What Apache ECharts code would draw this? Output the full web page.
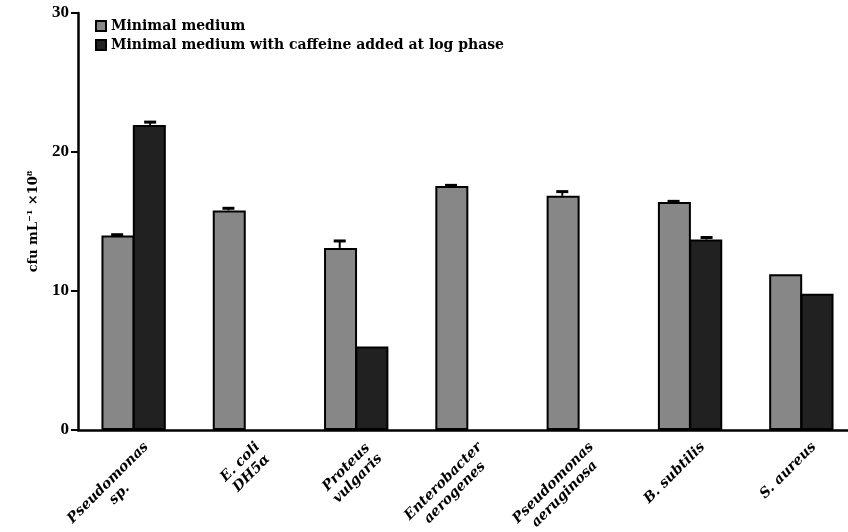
<!DOCTYPE html>
<html>
<head>
<meta charset="utf-8">
<script src="https://cdn.jsdelivr.net/npm/echarts@6/dist/echarts.min.js"></script>
<style>
    html, body { margin: 0; padding: 0; background: #fff; }
    #main { width: 848px; height: 532px; }
</style>
</head>
<body>
<div id="main"></div>
<script>
    // 菌株
    var categories = ['Pseudomonas\nsp.', 'E. coli\nDH5α', 'Proteus\nvulgaris', 'Enterobacter\naerogenes',
        'Pseudomonas\naeruginosa', 'B. subtilis', 'S. aureus'];
    var seriesNames = ['Minimal medium', 'Minimal medium with caffeine added at log phase'];
    // cfu mL-1 x10^8
    var minimalValues = [14.0, 15.8, 13.1, 17.55, 16.85, 16.4, 11.2];
    var minimalErrors = [0.05, 0.15, 0.5, 0.05, 0.3, 0.05, 0];
    var caffeineValues = [21.95, '-', 6.0, '-', '-', 13.7, 9.8];
    var caffeineErrors = [0.2, 0, 0, 0, 0, 0.15, 0];
    var yTicks = [0, 10, 20, 30];

    var barW = 33;
    var serif = '"DejaVu Serif", "Liberation Serif", serif';
    var labelFont = 'italic bold 14px "DejaVu Serif"';

    function errData(vals, errs) {
        var out = [];
        for (var i = 0; i < vals.length; i++) {
            if (vals[i] === '-' || !errs[i]) continue;
            out.push([i, vals[i], vals[i] + errs[i]]);
        }
        return out;
    }

    function errRender(offset) {
        return function (params, api) {
            var top = api.coord([api.value(0), api.value(2)]);
            var base = api.coord([api.value(0), api.value(1)]);
            var x = top[0] + offset;
            return {
                type: 'group',
                children: [
                    { type: 'line', shape: { x1: x, y1: base[1], x2: x, y2: top[1] }, style: { stroke: '#000', lineWidth: 2 } },
                    { type: 'line', shape: { x1: x - 6, y1: top[1], x2: x + 6, y2: top[1] }, style: { stroke: '#000', lineWidth: 3 } }
                ]
            };
        };
    }

    // 每个标签的行居中：按最长一行的宽度建 rich 样式
    var ctx = document.createElement('canvas').getContext('2d');
    ctx.font = labelFont;
    var labelRich = {};
    categories.forEach(function (c, i) {
        var w = 0;
        c.split('\n').forEach(function (l) { w = Math.max(w, ctx.measureText(l).width); });
        labelRich['c' + i] = {
            width: Math.ceil(w), align: 'center', lineHeight: 16,
            fontFamily: serif, fontStyle: 'italic', fontWeight: 'bold', fontSize: 14, color: '#000'
        };
    });

    var myChart = echarts.init(document.getElementById('main'));
    var option = {
        animation: false,
        grid: { left: 78, top: 13, right: -9, bottom: 102, outerBoundsMode: 'none' },
        legend: {
            orient: 'vertical',
            left: 90,
            top: 14,
            itemGap: 5,
            itemWidth: 10,
            itemHeight: 10,
            icon: 'rect',
            textStyle: { fontFamily: serif, fontSize: 14, fontWeight: 'bold', color: '#000' },
            data: seriesNames
        },
        xAxis: {
            type: 'category',
            data: categories,
            axisLine: { lineStyle: { color: '#000', width: 2.5 } },
            axisTick: { length: 6, lineStyle: { color: '#000', width: 2 } },
            axisLabel: {
                rotate: 45,
                align: 'right',
                verticalAlign: 'top',
                padding: [10, 0, 0, 0],
                margin: 2,
                interval: 0,
                formatter: function (v, i) {
                    return v.split('\n').map(function (l) { return '{c' + i + '|' + l + '}'; }).join('\n');
                },
                rich: labelRich
            }
        },
        yAxis: {
            type: 'value',
            min: yTicks[0],
            max: yTicks[yTicks.length - 1],
            interval: 10,
            splitLine: { show: false },
            axisLine: { show: true, lineStyle: { color: '#000', width: 2.5 } },
            axisTick: { show: true, length: 7, lineStyle: { color: '#000', width: 2 } },
            axisLabel: { fontFamily: '"Liberation Serif", serif', fontSize: 17, fontWeight: 'bold', color: '#000', margin: 9 },
            name: '{a|cfu mL}{s|−1}{a| ×10}{s|8}',
            nameLocation: 'middle',
            nameRotate: 90,
            nameGap: 36,
            nameTextStyle: {
                rich: {
                    a: { fontFamily: serif, fontSize: 13, fontWeight: 'bold', color: '#000' },
                    s: { fontFamily: serif, fontSize: 8, fontWeight: 'bold', color: '#000', padding: [0, 0, 8, 0] }
                }
            }
        },
        series: [
            {
                name: seriesNames[0],
                type: 'bar',
                data: minimalValues,
                barWidth: barW,
                barGap: '-5%',
                itemStyle: { color: '#878787', borderColor: '#000', borderWidth: 2 }
            },
            {
                name: seriesNames[1],
                type: 'bar',
                data: caffeineValues,
                barWidth: barW,
                barGap: '-5%',
                itemStyle: { color: '#212121', borderColor: '#000', borderWidth: 2 }
            },
            {
                type: 'custom',
                renderItem: errRender(-barW / 2),
                data: errData(minimalValues, minimalErrors),
                encode: { x: 0, y: [1, 2] },
                z: 5
            },
            {
                type: 'custom',
                renderItem: errRender(barW / 2),
                data: errData(caffeineValues, caffeineErrors),
                encode: { x: 0, y: [1, 2] },
                z: 5
            }
        ]
    };
    myChart.setOption(option);
</script>
</body>
</html>
